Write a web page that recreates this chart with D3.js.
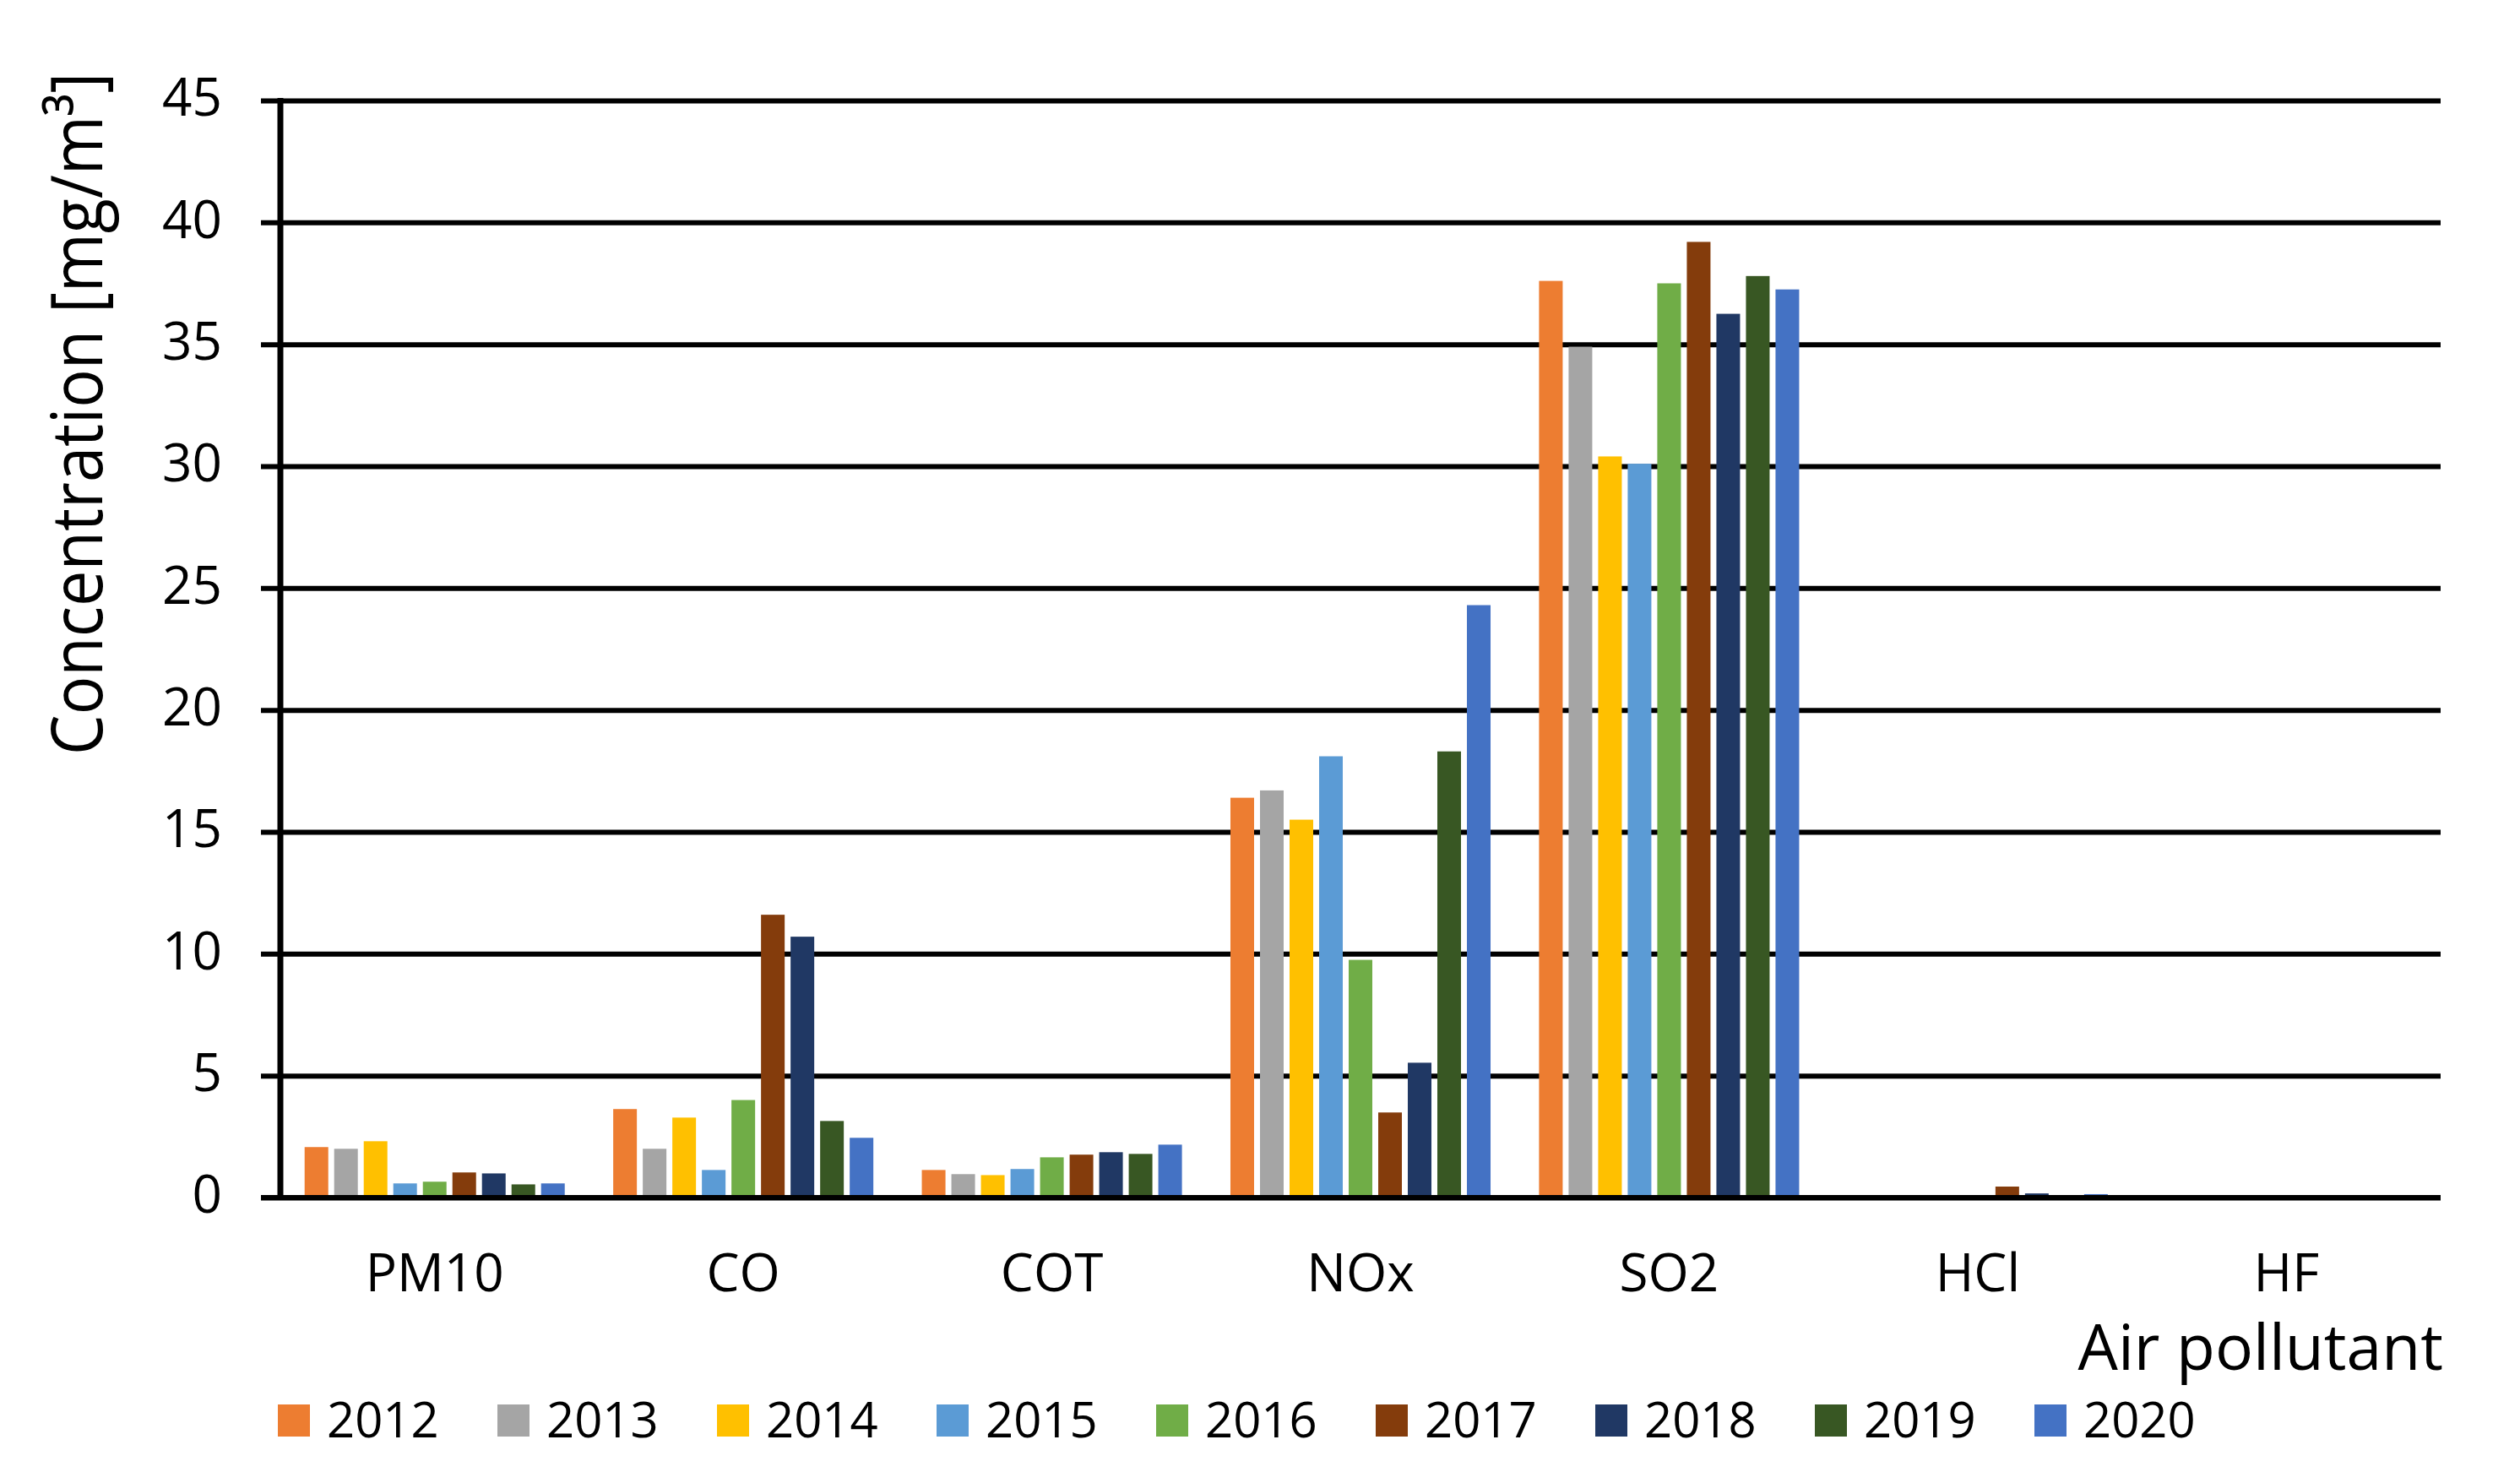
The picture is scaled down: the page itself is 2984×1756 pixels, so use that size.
<!DOCTYPE html>
<html>
<head>
<meta charset="utf-8">
<script src="https://cdn.jsdelivr.net/npm/d3@7"></script>
<style>
  html, body { margin: 0; padding: 0; background: #ffffff; }
  svg { display: block; }
  text { font-family: "Open Sans", "Noto Sans", sans-serif; fill: #000; }
</style>
</head>
<body>
<svg id="chart" width="2984" height="1756"></svg>
<script>
// ---- data ----
const categories = ["PM10", "CO", "COT", "NOx", "SO2", "HCl", "HF"];
const years = ["2012", "2013", "2014", "2015", "2016", "2017", "2018", "2019", "2020"];
const v2012 = [2.07, 3.63, 1.13, 16.4, 37.6, 0, 0];
const v2013 = [2.0, 2.0, 0.96, 16.7, 34.9, 0.07, 0];
const v2014 = [2.31, 3.28, 0.92, 15.5, 30.4, 0.035, 0];
const v2015 = [0.58, 1.13, 1.17, 18.1, 30.1, 0, 0];
const v2016 = [0.65, 4.0, 1.65, 9.75, 37.5, 0.07, 0];
const v2017 = [1.03, 11.6, 1.76, 3.49, 39.2, 0.45, 0];
const v2018 = [0.99, 10.7, 1.86, 5.53, 36.25, 0.17, 0];
const v2019 = [0.54, 3.14, 1.79, 18.3, 37.8, 0.035, 0];
const v2020 = [0.58, 2.45, 2.17, 24.3, 37.25, 0.14, 0.035];
const yTicks = [0, 5, 10, 15, 20, 25, 30, 35, 40, 45];
const colors = ["#ED7D31", "#A5A5A5", "#FFC000", "#5B9BD5", "#70AD47", "#843C0C", "#203864", "#385723", "#4472C4"];
const yTitle = "Concentration [mg/m³]";
const xTitle = "Air pollutant";

(function () {
const seriesValues = [v2012, v2013, v2014, v2015, v2016, v2017, v2018, v2019, v2020];
const rows = categories.map((c, ci) => ({
  cat: c,
  vals: years.map((yr, yi) => ({ year: yr, yi: yi, v: seriesValues[yi][ci] }))
}));

// ---- layout ----
const pL = 332, pR = 2890, pT = 119, pB = 1418;
const svg = d3.select("#chart");

const x0 = d3.scaleBand().domain(categories).range([pL, pR]).padding(0);
const x1 = d3.scaleBand().domain(years).range([0, x0.bandwidth()])
  .paddingInner(0.2).paddingOuter(0.82);
const y = d3.scaleLinear().domain([0, 45]).range([pB, pT]);
const color = d3.scaleOrdinal().domain(years).range(colors);

// gridlines + y tick labels
const yAxis = d3.axisLeft(y).tickValues(yTicks).tickSizeInner(-(pR - pL))
  .tickSizeOuter(0).tickPadding(69).tickFormat(d3.format("d"));
const gy = svg.append("g").attr("transform", `translate(${pL},0)`).call(yAxis);
gy.select(".domain").remove();
gy.selectAll(".tick line").attr("x1", -23).attr("x2", pR - pL)
  .attr("stroke", "#000").attr("stroke-width", 6);
gy.selectAll(".tick text").style("font-size", "62px")
  .attr("dy", "0.29em").attr("fill", "#000");

// bars
const groups = svg.append("g").selectAll("g").data(rows).join("g")
  .attr("transform", d => `translate(${x0(d.cat)},0)`);
groups.selectAll("rect").data(d => d.vals).join("rect")
  .attr("x", d => x1(d.year))
  .attr("width", x1.bandwidth())
  .attr("y", d => y(d.v))
  .attr("height", d => y(0) - y(d.v))
  .attr("fill", d => color(d.year));

// axis lines on top
svg.append("line").attr("x1", pL).attr("x2", pL).attr("y1", pT - 3).attr("y2", pB + 3)
  .attr("stroke", "#000").attr("stroke-width", 7);
svg.append("line").attr("x1", pL - 23).attr("x2", pR).attr("y1", y(0)).attr("y2", y(0))
  .attr("stroke", "#000").attr("stroke-width", 6);

// x category labels
const xAxis = d3.axisBottom(x0).tickSize(0).tickPadding(0);
const gx = svg.append("g").attr("transform", `translate(0,${pB})`).call(xAxis);
gx.select(".domain").remove();
gx.selectAll(".tick text").style("font-size", "62px")
  .attr("y", 111).attr("dy", 0).attr("fill", "#000");

// axis titles
svg.append("text")
  .attr("transform", `translate(121,490) rotate(-90)`)
  .attr("text-anchor", "middle")
  .attr("textLength", 808).attr("lengthAdjust", "spacingAndGlyphs")
  .style("font-size", "84px")
  .text(yTitle);

svg.append("text")
  .attr("x", 2893).attr("y", 1622)
  .attr("text-anchor", "end")
  .style("font-size", "75px")
  .text(xTitle);

// legend
const leg = svg.append("g").selectAll("g").data(years).join("g")
  .attr("transform", (d, i) => `translate(${329 + i * 260},1663)`);
leg.append("rect").attr("width", 38).attr("height", 38).attr("fill", d => color(d));
leg.append("text").attr("x", 58).attr("y", 39).style("font-size", "58px").text(d => d);
})();
</script>
</body>
</html>
